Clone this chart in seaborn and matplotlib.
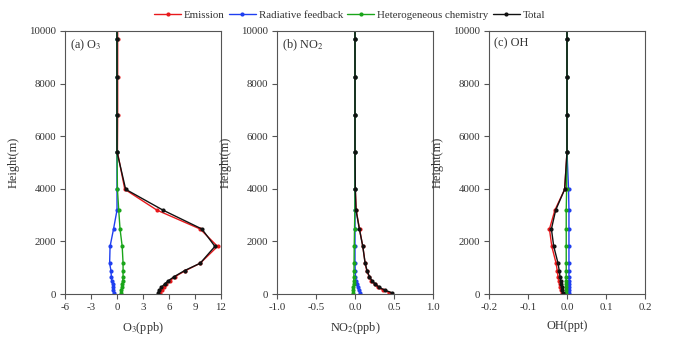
import numpy as np
import pandas as pd
import seaborn as sns
import matplotlib
matplotlib.use("Agg")
import matplotlib.pyplot as plt
from matplotlib.lines import Line2D

heights = [50, 150, 255, 380, 500, 660, 890, 1170, 1810, 2470, 3190, 3980, 5400, 6820, 8260, 9680, 11100]

o3_emission = [5.0, 5.2, 5.4, 5.7, 6.1, 6.7, 7.9, 9.6, 11.6, 9.6, 4.6, 0.9, 0.05, 0.08, 0.08, 0.08, 0.08]
o3_radiative = [-0.4, -0.42, -0.45, -0.5, -0.6, -0.65, -0.7, -0.85, -0.8, -0.4, 0.0, 0.0, 0.0, 0.0, 0.0, 0.0, 0.0]
o3_hetero = [0.45, 0.5, 0.55, 0.6, 0.65, 0.7, 0.7, 0.7, 0.6, 0.35, 0.2, 0.05, 0.0, 0.0, 0.0, 0.0, 0.0]
o3_total = [4.7, 4.9, 5.1, 5.5, 5.9, 6.6, 7.8, 9.6, 11.3, 9.8, 5.3, 1.0, 0.0, 0.0, 0.0, 0.0, 0.0]

no2_emission = [0.44, 0.36, 0.29, 0.25, 0.21, 0.18, 0.15, 0.13, 0.10, 0.058, 0.015, 0.004, 0.0, 0.0, 0.0, 0.0, 0.0]
no2_radiative = [0.06, 0.045, 0.035, 0.02, 0.012, 0.006, 0.003, 0.0, 0.0, 0.0, 0.0, 0.0, 0.0, 0.0, 0.0, 0.0, 0.0]
no2_hetero = [-0.025, -0.022, -0.02, -0.018, -0.016, -0.015, -0.013, -0.012, -0.01, -0.006, -0.002, 0.0, 0.0, 0.0, 0.0, 0.0, 0.0]
no2_total = [0.47, 0.38, 0.31, 0.26, 0.22, 0.185, 0.155, 0.13, 0.10, 0.056, 0.013, 0.004, 0.0, 0.0, 0.0, 0.0, 0.0]

oh_emission = [-0.013, -0.015, -0.017, -0.019, -0.021, -0.023, -0.025, -0.028, -0.039, -0.045, -0.031, -0.006, 0.0, 0.0, 0.0, 0.0, 0.0]
oh_radiative = [0.005, 0.005, 0.005, 0.005, 0.005, 0.005, 0.005, 0.005, 0.005, 0.005, 0.005, 0.004, 0.0, 0.0, 0.0, 0.0, 0.0]
oh_hetero = [-0.002, -0.002, -0.002, -0.002, -0.002, -0.002, -0.002, -0.002, -0.002, -0.002, -0.002, -0.001, 0.0, 0.0, 0.0, 0.0, 0.0]
oh_total = [-0.010, -0.012, -0.013, -0.015, -0.016, -0.018, -0.020, -0.023, -0.034, -0.040, -0.029, -0.006, 0.0, 0.0, 0.0, 0.0, 0.0]

series_names = ["Emission", "Radiative feedback", "Heterogeneous chemistry", "Total"]
colors = ["#e8191c", "#1f3ff0", "#1aa51a", "#111111"]

panels = [
    ("(a) O$_3$", "O$_3$(ppb)", [o3_emission, o3_radiative, o3_hetero, o3_total], (-6, 12), [-6, -3, 0, 3, 6, 9, 12], ["-6", "-3", "0", "3", "6", "9", "12"]),
    ("(b) NO$_2$", "NO$_2$(ppb)", [no2_emission, no2_radiative, no2_hetero, no2_total], (-1.0, 1.0), [-1.0, -0.5, 0.0, 0.5, 1.0], ["-1.0", "-0.5", "0.0", "0.5", "1.0"]),
    ("(c) OH", "OH(ppt)", [oh_emission, oh_radiative, oh_hetero, oh_total], (-0.2, 0.2), [-0.2, -0.1, 0.0, 0.1, 0.2], ["-0.2", "-0.1", "0.0", "0.1", "0.2"]),
]

sns.set_theme(style="ticks")
plt.rcParams['font.family'] = ['Liberation Serif', 'DejaVu Serif']
plt.rcParams['mathtext.fontset'] = 'stix'

text_color = "#333333"
fig = plt.figure(figsize=(6.99, 3.41), dpi=100)
lefts = [65, 277, 489]
width = 156
for i, (title, xlabel, vals, xlim, xticks, xtl) in enumerate(panels):
    ax = fig.add_axes([lefts[i] / 699, 1 - 294 / 341, width / 699, (294 - 31) / 341])
    rows = []
    for name, v in zip(series_names, vals):
        for h, x in zip(heights, v):
            rows.append({"height": h, "value": x, "series": name})
    df = pd.DataFrame(rows)
    sns.lineplot(data=df, x="value", y="height", hue="series", hue_order=series_names,
                 palette=colors, sort=False, estimator=None, marker="o", markersize=3.0,
                 markeredgewidth=0, linewidth=1.0, legend=False, ax=ax)
    ax.set_xlim(*xlim)
    ax.set_ylim(0, 10000)
    ax.set_xticks(xticks)
    ax.set_xticklabels(xtl)
    ax.set_yticks([0, 2000, 4000, 6000, 8000, 10000])
    ax.set_yticklabels(["0", "2000", "4000", "6000", "8000", "10000"])
    ax.tick_params(labelsize=7.8, length=3.5, width=0.8, direction="out", pad=3,
                   colors="#555555", labelcolor=text_color)
    ax.set_xlabel(xlabel, fontsize=8.8, labelpad=6, color=text_color)
    ax.set_ylabel("Height(m)", fontsize=8.8, labelpad=7, color=text_color)
    for s in ax.spines.values():
        s.set_linewidth(0.8)
        s.set_color("#555555")
    ax.text(0.03, 0.975, title, transform=ax.transAxes, fontsize=8.8, va="top", ha="left", color=text_color)

handles = [Line2D([], [], color=c, marker="o", markersize=3.0, markeredgewidth=0, linewidth=1.0) for c in colors]
fig.legend(handles, series_names, loc="center", bbox_to_anchor=(0.5, 1 - 15 / 341), ncol=4,
           frameon=False, fontsize=7.8, handlelength=2.5, handletextpad=0.25, columnspacing=0.4,
           labelcolor=text_color)

fig.savefig("out.png", dpi=100)
